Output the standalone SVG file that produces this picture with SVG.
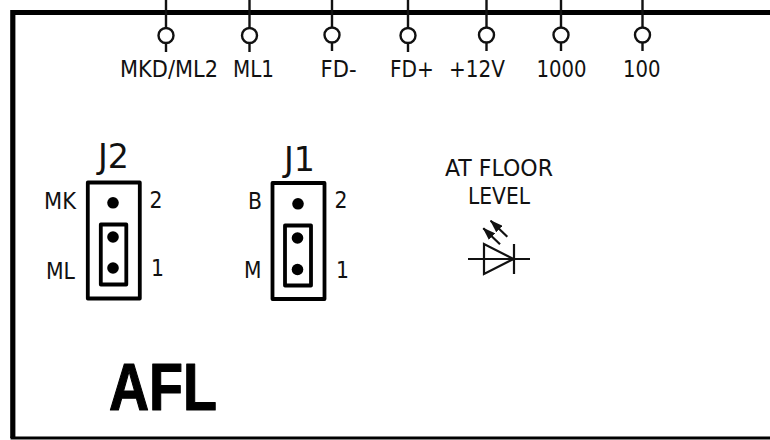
<svg xmlns="http://www.w3.org/2000/svg" width="770" height="440" viewBox="0 0 770 440">
<style>
text{font-family:"DejaVu Sans","Liberation Sans",sans-serif;fill:#111}
.s{font-size:23px}
.j{font-size:34px}
.t{fill:none;stroke:#111;stroke-width:2.4}
.b{fill:none;stroke:#000;stroke-width:3.8;stroke-linejoin:round}
.d{fill:#000}
.l{fill:none;stroke:#111;stroke-width:2.2}
</style>
<defs>
<marker id="a" viewBox="0 0 13 9" refX="12" refY="4.500" markerWidth="13" markerHeight="9" markerUnits="userSpaceOnUse" orient="auto"><path d="M0 0L13 4.500L0 9Z" fill="#111"/></marker>
</defs>
<rect width="770" height="440" fill="#fff"/>
<g id="frame"><path d="M770 12.500H12.800V438" fill="none" stroke="#000" stroke-width="5.200"/><path d="M10.500 438H770" fill="none" stroke="#000" stroke-width="3"/></g>
<g id="connectors">
<path class="t" d="M166 0V28M166 43V52M249.500 0V28M249.500 43V52M332 0V28M332 43V51M408 0V28M408 43V52M486.500 0V28M486.500 43V51M561 0V28M561 43V51M642.500 0V28M642.500 43V51"/>
</g>
<g id="term-mkd"><circle class="t" cx="166" cy="35.500" r="7.500"/><text class="s" x="120" y="76.500" textLength="98" lengthAdjust="spacingAndGlyphs">MKD/ML2</text></g>
<g id="term-ml1"><circle class="t" cx="249.500" cy="35.500" r="7.500"/><text class="s" x="233" y="76.500" textLength="41" lengthAdjust="spacingAndGlyphs">ML1</text></g>
<g id="term-fdm"><circle class="t" cx="332" cy="35" r="7.500"/><text class="s" x="320.500" y="76.500" textLength="36" lengthAdjust="spacingAndGlyphs">FD-</text></g>
<g id="term-fdp"><circle class="t" cx="408" cy="35.500" r="7.500"/><text class="s" x="390" y="76.500" textLength="44" lengthAdjust="spacingAndGlyphs">FD+</text></g>
<g id="term-12v"><circle class="t" cx="486.500" cy="35" r="7.500"/><text class="s" x="449" y="76.500" textLength="56" lengthAdjust="spacingAndGlyphs">+12V</text></g>
<g id="term-1000"><circle class="t" cx="561" cy="35" r="7.500"/><text class="s" x="536.500" y="76.500" textLength="50" lengthAdjust="spacingAndGlyphs">1000</text></g>
<g id="term-100"><circle class="t" cx="642.500" cy="35" r="7.500"/><text class="s" x="623" y="76.500" textLength="37.500" lengthAdjust="spacingAndGlyphs">100</text></g>
<g id="j2">
<text class="j" x="98" y="168" textLength="31" lengthAdjust="spacingAndGlyphs">J2</text>
<rect class="b" x="87.800" y="182.500" width="52" height="116"/>
<rect class="b" x="100.800" y="224.500" width="25.500" height="60"/>
<circle class="d" cx="113" cy="202.800" r="5.800"/><circle class="d" cx="113" cy="237" r="5.800"/><circle class="d" cx="113" cy="268" r="5.800"/>
<text class="s" x="44" y="209.300" textLength="32" lengthAdjust="spacingAndGlyphs">MK</text>
<text class="s" x="46" y="279" textLength="29" lengthAdjust="spacingAndGlyphs">ML</text>
<text class="s" x="149.500" y="207.700" textLength="13" lengthAdjust="spacingAndGlyphs">2</text>
<text class="s" x="151" y="275.700" textLength="13" lengthAdjust="spacingAndGlyphs">1</text>
</g>
<g id="j1">
<text class="j" x="284" y="170.700" textLength="31" lengthAdjust="spacingAndGlyphs">J1</text>
<rect class="b" x="272.500" y="183" width="52" height="116"/>
<rect class="b" x="285" y="225.500" width="26" height="60"/>
<circle class="d" cx="298" cy="203.800" r="5.800"/><circle class="d" cx="297.500" cy="238" r="5.800"/><circle class="d" cx="297.500" cy="269.500" r="5.800"/>
<text class="s" x="248" y="209.300" textLength="14" lengthAdjust="spacingAndGlyphs">B</text>
<text class="s" x="244" y="278.300" textLength="17.500" lengthAdjust="spacingAndGlyphs">M</text>
<text class="s" x="334.500" y="208.300" textLength="13" lengthAdjust="spacingAndGlyphs">2</text>
<text class="s" x="336" y="277.700" textLength="13" lengthAdjust="spacingAndGlyphs">1</text>
</g>
<g id="led">
<text class="s" x="445" y="175.700" textLength="108" lengthAdjust="spacingAndGlyphs">AT FLOOR</text>
<text class="s" x="468" y="204.300" textLength="62" lengthAdjust="spacingAndGlyphs">LEVEL</text>
<path class="l" d="M468 259H530M484 244V274L513.500 259ZM514 244V274"/>
<path class="l" d="M500 244.300L483.300 228.300" marker-end="url(#a)"/>
<path class="l" d="M507.300 236.700L490.700 220.700" marker-end="url(#a)"/>
</g>
<g id="title"><text x="109" y="409.500" font-size="66" font-weight="700" textLength="108" lengthAdjust="spacingAndGlyphs" style="font-family:'Liberation Sans',sans-serif;fill:#000;stroke:#000;stroke-width:1.200;stroke-linejoin:round">AFL</text></g>
</svg>
